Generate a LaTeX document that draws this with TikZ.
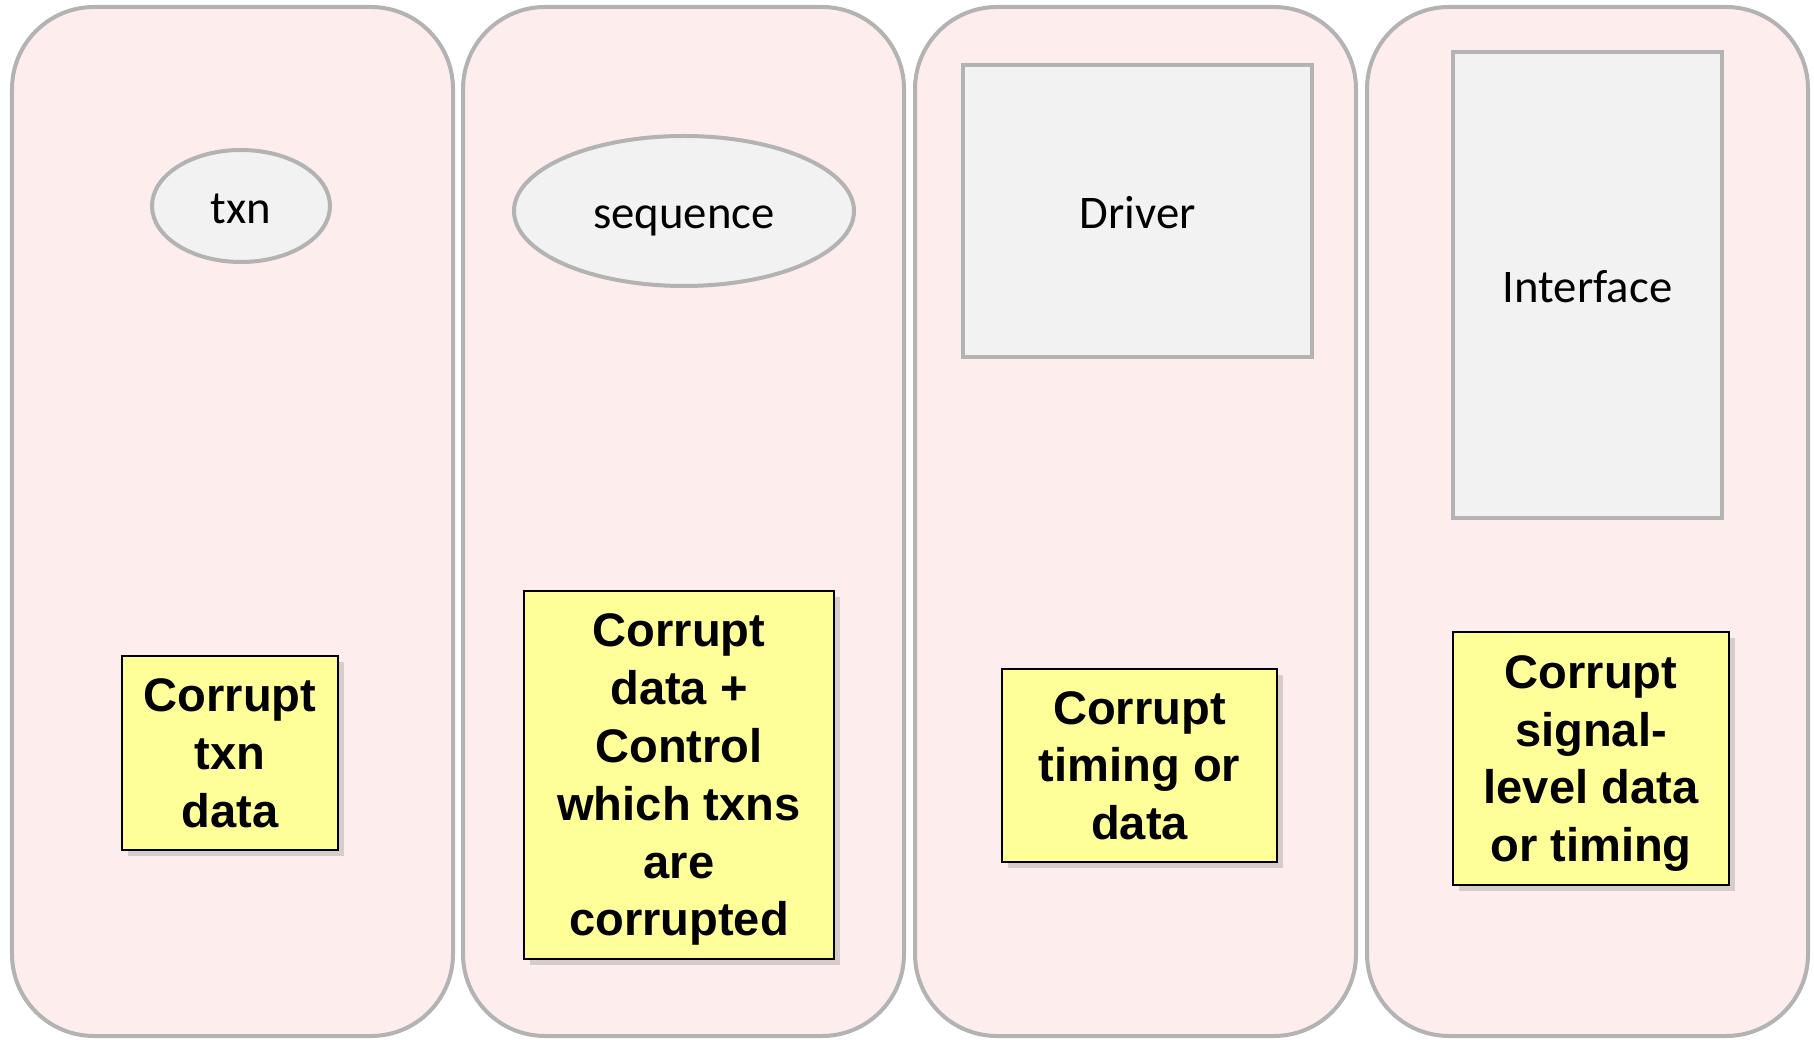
\documentclass[tikz,border=0pt]{standalone}
\usepackage{fontspec}
\setmainfont{Carlito}
\newfontfamily\notefont{Liberation Sans}
\usetikzlibrary{shapes.geometric,shadows}
\definecolor{panelfill}{HTML}{FDEDED}
\definecolor{panelline}{HTML}{B3B3B3}
\definecolor{partfill}{HTML}{F2F2F2}
\definecolor{notefill}{HTML}{FFFF99}
\begin{document}
\begin{tikzpicture}[
  panel/.style = {draw = panelline, fill = panelfill, line width = 0.04cm, rounded corners = 0.82cm,
                  minimum width = 4.41cm, minimum height = 10.29cm, inner sep = 0pt},
  part/.style = {draw = panelline, fill = partfill, line width = 0.04cm, inner sep = 0pt,
                 text height = 0.42cm, text depth = 0.07cm,
                 font = \fontsize{13.3}{16}\selectfont},
  note/.style = {draw = black, fill = notefill, line width = 0.02cm, inner sep = 0pt, align = center,
                 text depth = 0pt,
                 drop shadow = {opacity = 0.3, shadow xshift = 0.06cm, shadow yshift = -0.06cm},
                 font = \notefont\bfseries\fontsize{13.4}{16.45}\selectfont}
]
\useasboundingbox[fill = white] (0, 0) rectangle (18.14, -10.40);
% four lanes
\node[panel] (txnlane) at (2.325, -5.215) {};
\node[panel] (seqlane) at (6.835, -5.215) {};
\node[panel] (drvlane) at (11.355, -5.215) {};
\node[panel] (iflane) at (15.875, -5.215) {};
% components
\node[part, ellipse, minimum width = 1.78cm, minimum height = 1.12cm] (txn) at (2.41, -2.06) {txn};
\node[part, ellipse, minimum width = 3.40cm, minimum height = 1.50cm] (sequence) at (6.84, -2.11) {sequence};
\node[part, rectangle, minimum width = 3.49cm, minimum height = 2.92cm] (driver) at (11.375, -2.11) {Driver};
\node[part, rectangle, minimum width = 2.69cm, minimum height = 4.66cm] (interface) at (15.875, -2.85) {Interface};
% what each one can corrupt
\node[note, minimum width = 2.16cm, minimum height = 1.94cm] (txnnote) at (2.30, -7.53) {Corrupt\\txn\\data};
\node[note, minimum width = 3.10cm, minimum height = 3.68cm] (seqnote) at (6.79, -7.75) {Corrupt\\data +\\Control\\which txns\\are\\corrupted};
\node[note, minimum width = 2.75cm, minimum height = 1.93cm] (drvnote) at (11.395, -7.655) {Corrupt\\timing or\\data};
\node[note, minimum width = 2.76cm, minimum height = 2.53cm] (ifnote) at (15.91, -7.585) {Corrupt\\signal-\\level data\\or timing};
\end{tikzpicture}
\end{document}
